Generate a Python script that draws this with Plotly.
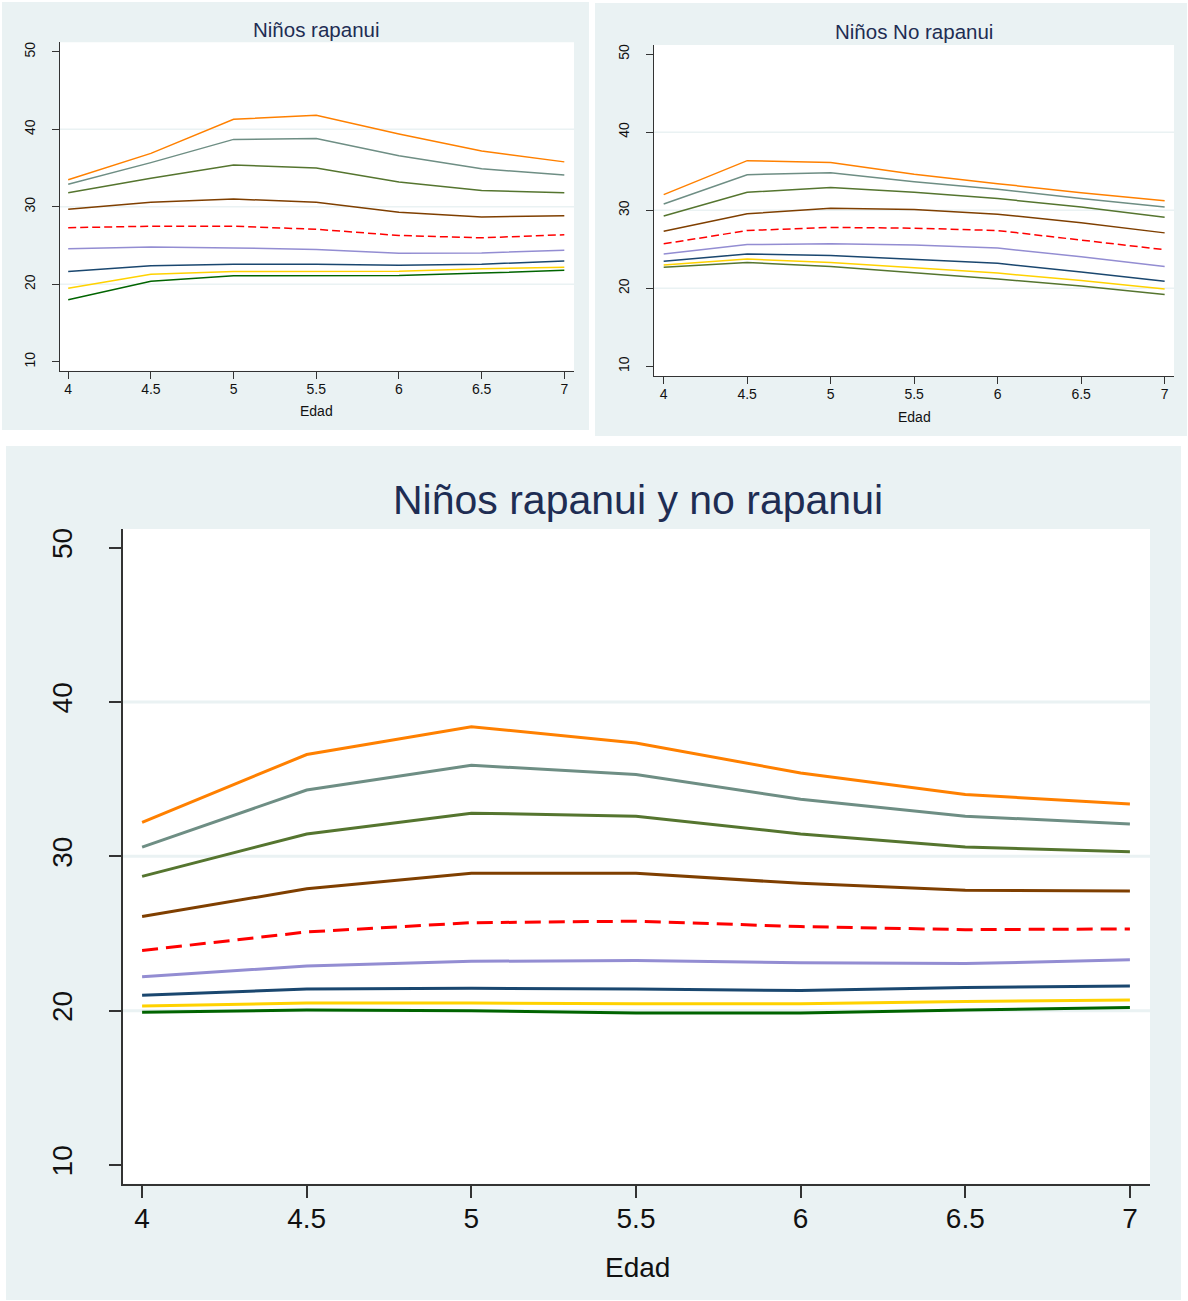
import plotly.graph_objects as go

W, H = 1188, 1301

edad = [4, 4.5, 5, 5.5, 6, 6.5, 7]
x_ticks = [4, 4.5, 5, 5.5, 6, 6.5, 7]
x_ticklabels = ["4", "4.5", "5", "5.5", "6", "6.5", "7"]
y_ticks = [10, 20, 30, 40, 50]
y_ticklabels = ["10", "20", "30", "40", "50"]
grid_vals = [20, 30, 40]

titles = ["Niños rapanui", "Niños No rapanui", "Niños rapanui y no rapanui"]
x_title = "Edad"

# Panel 1: Niños rapanui (top to bottom curves)
rap_c1 = [33.5, 36.9, 41.3, 41.8, 39.4, 37.2, 35.8]
rap_c2 = [32.9, 35.7, 38.7, 38.8, 36.6, 34.9, 34.1]
rap_c3 = [31.8, 33.7, 35.4, 35.0, 33.2, 32.1, 31.8]
rap_c4 = [29.7, 30.6, 31.0, 30.6, 29.3, 28.7, 28.85]
rap_c5 = [27.3, 27.5, 27.5, 27.1, 26.3, 26.0, 26.4]
rap_c6 = [24.6, 24.8, 24.7, 24.5, 24.0, 24.05, 24.4]
rap_c7 = [21.65, 22.4, 22.6, 22.6, 22.45, 22.6, 23.0]
rap_c8 = [19.5, 21.3, 21.65, 21.7, 21.7, 22.0, 22.2]
rap_c9 = [18.0, 20.4, 21.1, 21.1, 21.15, 21.45, 21.8]

# Panel 2: Niños No rapanui
norap_c1 = [32.0, 36.35, 36.1, 34.6, 33.4, 32.25, 31.2]
norap_c2 = [30.8, 34.55, 34.8, 33.65, 32.7, 31.5, 30.4]
norap_c3 = [29.25, 32.3, 32.9, 32.3, 31.5, 30.4, 29.1]
norap_c4 = [27.3, 29.55, 30.25, 30.1, 29.5, 28.4, 27.1]
norap_c5 = [25.7, 27.4, 27.8, 27.7, 27.4, 26.2, 24.95]
norap_c6 = [24.4, 25.6, 25.7, 25.55, 25.15, 24.05, 22.8]
norap_c7 = [23.45, 24.4, 24.2, 23.7, 23.2, 22.1, 20.9]
norap_c8 = [23.0, 23.75, 23.3, 22.65, 21.95, 21.0, 19.9]
norap_c9 = [22.7, 23.3, 22.8, 22.0, 21.2, 20.3, 19.2]

# Panel 3: Niños rapanui y no rapanui
all_c1 = [32.2, 36.6, 38.4, 37.35, 35.4, 34.0, 33.4]
all_c2 = [30.6, 34.3, 35.9, 35.3, 33.7, 32.6, 32.1]
all_c3 = [28.7, 31.45, 32.8, 32.6, 31.45, 30.6, 30.3]
all_c4 = [26.1, 27.9, 28.9, 28.9, 28.25, 27.8, 27.75]
all_c5 = [23.9, 25.1, 25.7, 25.8, 25.45, 25.25, 25.3]
all_c6 = [22.2, 22.9, 23.2, 23.25, 23.1, 23.05, 23.3]
all_c7 = [21.0, 21.4, 21.45, 21.4, 21.3, 21.5, 21.6]
all_c8 = [20.3, 20.5, 20.5, 20.45, 20.45, 20.6, 20.7]
all_c9 = [19.9, 20.05, 20.0, 19.85, 19.85, 20.05, 20.2]

ORANGE = "#FF8000"
TEAL = "#6E8E84"
OLIVE = "#55752F"
BROWN = "#7F3F00"
RED = "#FF0000"
LAV = "#938DD2"
NAVY = "#1A476F"
GOLD = "#FFD200"
DKGREEN = "#006400"
BG = "#EAF2F3"
GRID = "#EAF2F3"
TITLE_C = "#1E2D53"
AX_C = "#333333"
FONT = "Liberation Sans, Arial, sans-serif"

panels = [
    dict(series=[rap_c1, rap_c2, rap_c3, rap_c4, rap_c5, rap_c6, rap_c7, rap_c8, rap_c9],
         colors=[ORANGE, TEAL, OLIVE, BROWN, RED, LAV, NAVY, GOLD, DKGREEN],
         lw=1.5, dash="8px,4px",
         px_x=(60, 574), px_y=(42.3, 370.7), xr=(3.9504, 7.0586), yr=(8.85, 51.23),
         bg=(2, 2, 589, 430), tickfont=14, ticklen=7, axw=1.2, gridw=1.5,
         xstand=-2, ystand=11,
         title_xy=(316, 29), title_size=20.5, xt_xy=(316, 411), xt_size=14),
    dict(series=[norap_c1, norap_c2, norap_c3, norap_c4, norap_c5, norap_c6, norap_c7, norap_c8, norap_c9],
         colors=[ORANGE, TEAL, OLIVE, BROWN, RED, LAV, NAVY, GOLD, OLIVE],
         lw=1.5, dash="8px,4px",
         px_x=(654, 1174), px_y=(45, 376), xr=(3.942, 7.056), yr=(8.77, 51.16),
         bg=(595, 3, 1187, 436), tickfont=14, ticklen=7, axw=1.2, gridw=1.5,
         xstand=-2, ystand=11,
         title_xy=(914, 31), title_size=20.5, xt_xy=(914, 417), xt_size=14),
    dict(series=[all_c1, all_c2, all_c3, all_c4, all_c5, all_c6, all_c7, all_c8, all_c9],
         colors=[ORANGE, TEAL, OLIVE, BROWN, RED, LAV, NAVY, GOLD, DKGREEN],
         lw=3, dash="16px,8px",
         px_x=(123, 1150), px_y=(529, 1183.7), xr=(3.942, 7.061), yr=(8.79, 51.21),
         bg=(6, 446, 1181, 1300), tickfont=28, ticklen=12, axw=2, gridw=3,
         xstand=-3, ystand=26,
         title_xy=(638, 500), title_size=41, xt_xy=(637, 1267), xt_size=28),
]

fig = go.Figure()
shapes = []
annotations = []
layout_axes = {}

# panel backgrounds first, then white plot regions
for p in panels:
    x0, y0, x1, y1 = p["bg"]
    shapes.append(dict(type="rect", xref="paper", yref="paper", layer="below",
                       x0=x0 / W, x1=x1 / W, y0=1 - y1 / H, y1=1 - y0 / H,
                       fillcolor=BG, line=dict(width=0)))
for p in panels:
    (a, b), (t, bt) = p["px_x"], p["px_y"]
    shapes.append(dict(type="rect", xref="paper", yref="paper", layer="below",
                       x0=a / W, x1=b / W, y0=1 - bt / H, y1=1 - t / H,
                       fillcolor="white", line=dict(width=0)))

for i, p in enumerate(panels, start=1):
    xa = "x" if i == 1 else f"x{i}"
    ya = "y" if i == 1 else f"y{i}"
    (a, b), (t, bt) = p["px_x"], p["px_y"]
    for g in grid_vals:
        shapes.append(dict(type="line", xref=f"{xa} domain", yref=ya, layer="below",
                           x0=0, x1=1, y0=g, y1=g, line=dict(color=GRID, width=p["gridw"])))
    for k, (ys, col) in enumerate(zip(p["series"], p["colors"])):
        fig.add_trace(go.Scatter(
            x=edad, y=ys, mode="lines", xaxis=xa, yaxis=ya, showlegend=False,
            line=dict(color=col, width=p["lw"], dash=p["dash"] if k == 4 else "solid"),
            hoverinfo="skip"))
    common = dict(showgrid=False, zeroline=False, showline=True, linecolor=AX_C,
                  linewidth=p["axw"], ticks="outside", ticklen=p["ticklen"],
                  tickwidth=p["axw"] * 0.9, tickcolor=AX_C,
                  tickfont=dict(size=p["tickfont"], color="#111111", family=FONT))
    layout_axes["xaxis" if i == 1 else f"xaxis{i}"] = dict(
        common, domain=[a / W, b / W], range=list(p["xr"]), anchor=ya,
        tickvals=x_ticks, ticktext=x_ticklabels, ticklabelstandoff=p["xstand"])
    layout_axes["yaxis" if i == 1 else f"yaxis{i}"] = dict(
        common, domain=[1 - bt / H, 1 - t / H], range=list(p["yr"]), anchor=xa,
        tickvals=y_ticks, ticktext=y_ticklabels, tickangle=-90,
        ticklabelstandoff=p["ystand"])
    tx, ty = p["title_xy"]
    annotations.append(dict(text=titles[i - 1], x=tx / W, y=1 - ty / H, xref="paper", yref="paper",
                            xanchor="center", yanchor="middle", showarrow=False,
                            font=dict(size=p["title_size"], color=TITLE_C, family=FONT)))
    ex, ey = p["xt_xy"]
    annotations.append(dict(text=x_title, x=ex / W, y=1 - ey / H, xref="paper", yref="paper",
                            xanchor="center", yanchor="middle", showarrow=False,
                            font=dict(size=p["xt_size"], color="#111111", family=FONT)))

fig.update_layout(
    width=W, height=H, margin=dict(l=0, r=0, t=0, b=0, pad=0),
    paper_bgcolor="white", plot_bgcolor="rgba(0,0,0,0)",
    shapes=shapes, annotations=annotations, font=dict(family=FONT),
    **layout_axes)

fig.write_html("out.html", config={"displayModeBar": False},
               post_script="document.body.style.margin='0';")
